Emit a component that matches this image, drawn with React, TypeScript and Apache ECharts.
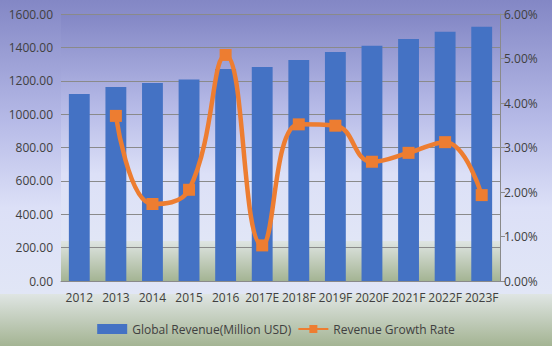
import React, { useEffect, useRef } from "react";
import * as echarts from "echarts";

const categories = ["2012", "2013", "2014", "2015", "2016", "2017E", "2018F", "2019F", "2020F", "2021F", "2022F", "2023F"];
const revenue = [1121, 1163, 1187, 1208, 1270, 1282, 1324, 1372, 1410, 1450, 1494, 1524];
const growthRate = [null, 3.71, 1.73, 2.05, 5.08, 0.8, 3.52, 3.49, 2.68, 2.88, 3.12, 1.93];
const leftTicks = { min: 0, max: 1600, interval: 200 };
const rightTicks = { min: 0, max: 6, interval: 1 };

const bgGradient = () =>
  new echarts.graphic.LinearGradient(0, 0, 0, 1, [
    { offset: 0, color: "#8387c5" },
    { offset: 0.35, color: "#b6bae7" },
    { offset: 0.6, color: "#dce0f7" },
    { offset: 0.849, color: "#e1e6f6" },
    { offset: 0.85, color: "#dfe5e3" },
    { offset: 1, color: "#a4b493" },
  ]);

export default function App() {
  const ref = useRef<HTMLDivElement>(null);
  useEffect(() => {
    if (!ref.current) return;
    const chart = echarts.init(ref.current, null, { renderer: "svg" });
    const font = "'Open Sans', sans-serif";
    chart.setOption({
      animation: false,
      backgroundColor: bgGradient(),
      textStyle: { fontFamily: font },
      grid: {
        left: 61,
        right: 52,
        top: 14,
        bottom: 65,
        show: true,
        borderWidth: 0,
        backgroundColor: bgGradient(),
      },
      legend: {
        bottom: 6,
        left: "center",
        itemGap: 6,
        itemWidth: 30,
        itemHeight: 10,
        textStyle: { fontFamily: font, fontSize: 12, color: "#404040" },
        data: [
          { name: "Global Revenue(Million USD)", icon: "rect", itemStyle: {} },
          { name: "Revenue Growth Rate" },
        ],
      },
      xAxis: {
        type: "category",
        data: categories,
        axisLine: { show: true, lineStyle: { color: "#8a8a8a", width: 1 } },
        axisTick: { show: false },
        axisLabel: { fontFamily: font, fontSize: 12, color: "#404040", margin: 10, interval: 0 },
      },
      yAxis: [
        {
          type: "value",
          min: leftTicks.min,
          max: leftTicks.max,
          interval: leftTicks.interval,
          axisLine: { show: false },
          axisTick: { show: false },
          splitLine: { show: true, lineStyle: { color: "#8a8a8a", width: 1 } },
          axisLabel: {
            fontFamily: font,
            fontSize: 12,
            color: "#404040",
            margin: 8,
            formatter: (v: number) => v.toFixed(2),
          },
        },
        {
          type: "value",
          position: "right",
          min: rightTicks.min,
          max: rightTicks.max,
          interval: rightTicks.interval,
          axisLine: { show: true, lineStyle: { color: "#8a8a8a", width: 1 } },
          axisTick: { show: true, length: 5, lineStyle: { color: "#8a8a8a" } },
          splitLine: { show: false },
          axisLabel: {
            fontFamily: font,
            fontSize: 12,
            color: "#404040",
            margin: 4,
            formatter: (v: number) => v.toFixed(2) + "%",
          },
        },
      ],
      series: [
        {
          name: "Global Revenue(Million USD)",
          type: "bar",
          data: revenue,
          barWidth: "57%",
          itemStyle: { color: "#4472c4" },
        },
        {
          name: "Revenue Growth Rate",
          type: "line",
          yAxisIndex: 1,
          data: growthRate,
          smooth: 0.45,
          symbol: "rect",
          symbolSize: 12,
          lineStyle: { color: "#ed7d31", width: 4.5 },
          itemStyle: { color: "#ed7d31" },
        },
      ],
    });
    return () => chart.dispose();
  }, []);
  return <div ref={ref} style={{ width: 552, height: 346, position: "absolute", left: 0, top: 0 }} />;
}
